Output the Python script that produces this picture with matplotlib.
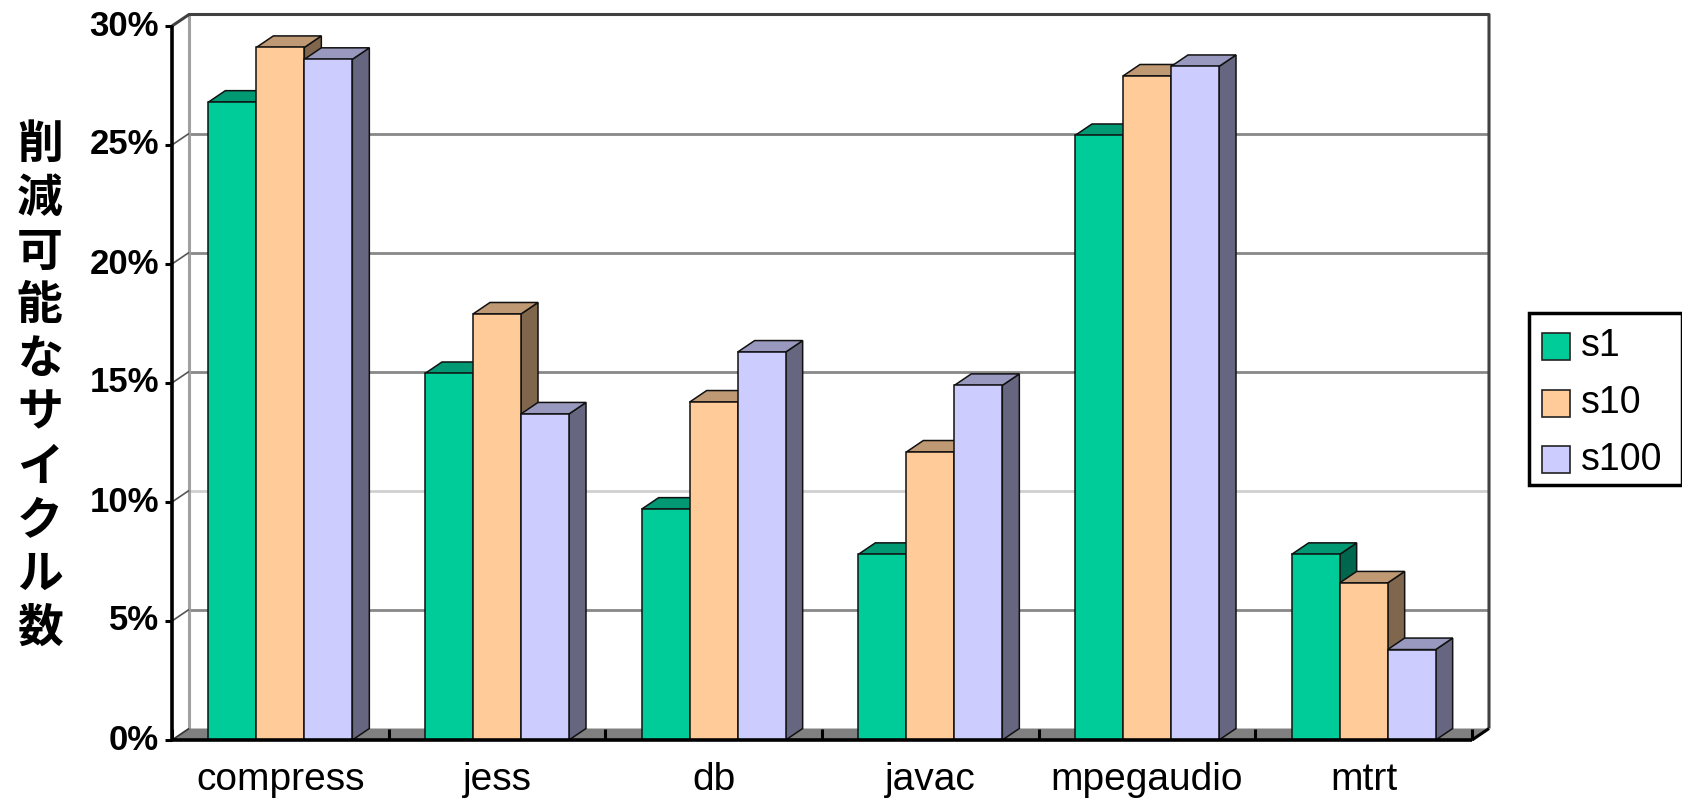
import matplotlib
matplotlib.use("Agg")
import matplotlib.pyplot as plt
from matplotlib.patches import Polygon, Rectangle
from matplotlib.colors import to_rgb

# ---- data -------------------------------------------------------------
categories = ["compress", "jess", "db", "javac", "mpegaudio", "mtrt"]
series_names = ["s1", "s10", "s100"]
s1_values = [26.8, 15.4, 9.7, 7.8, 25.4, 7.8]
s10_values = [29.1, 17.9, 14.2, 12.1, 27.9, 6.6]
s100_values = [28.6, 13.7, 16.3, 14.9, 28.3, 3.8]
y_ticks = [0, 5, 10, 15, 20, 25, 30]
y_tick_labels = ["0%", "5%", "10%", "15%", "20%", "25%", "30%"]
y_label = "削減可能なサイクル数"

series_values = [s1_values, s10_values, s100_values]
front_colors = ["#00CC99", "#FFCC99", "#CCCCFF"]

# ---- figure geometry (pixels) ------------------------------------------
W, H = 1683, 799
fig = plt.figure(figsize=(W / 100, H / 100), dpi=100)

X0, X1 = 172, 1472          # front plane left / right
Y0, YTOP = 740, 26          # front plane 0% / 30% (from top of image)
ax = fig.add_axes([X0 / W, 1 - Y0 / H, (X1 - X0) / W, (Y0 - YTOP) / H])
ax.set_xlim(0, len(categories))
ax.set_ylim(0, 30)
ax.axis("off")

px_x = (X1 - X0) / len(categories)   # pixels per category
px_y = (Y0 - YTOP) / 30.0             # pixels per percent
DX = 17 / px_x                        # depth offset in data units
DY = 11.5 / px_y
NC = len(categories)


def fx(x):
    return x / W


def fy(y):
    return 1 - y / H


def shade(color, f):
    r, g, b = to_rgb(color)
    return (r * f, g * f, b * f)


def line(xs, ys, **kw):
    ax.plot(xs, ys, clip_on=False, solid_capstyle="butt", **kw)


# ---- walls ---------------------------------------------------------------
# back-wall gridlines
for t in y_ticks[1:-1]:
    col = "#d0d0d0" if t == 10 else "#888888"
    line([DX, NC + DX], [t + DY, t + DY], color=col, lw=2, zorder=1)

# left wall: back edge and diagonal gridlines
line([DX, DX], [DY, 30 + DY], color="#a0a0a0", lw=2.2, zorder=1)
for t in y_ticks[1:-1]:
    line([0, DX], [t, t + DY], color="#555555", lw=1.2, zorder=1)

# top and right border of the back wall
line([0, DX, NC + DX, NC + DX], [30, 30 + DY, 30 + DY, DY],
     color="#404040", lw=2.2, zorder=1)

# floor
ax.add_patch(Polygon([(0, 0), (NC, 0), (NC + DX, DY), (DX, DY)],
                     closed=True, facecolor="#808080", edgecolor="none",
                     zorder=2, clip_on=False))
line([0, DX], [0, DY], color="#333333", lw=1.2, zorder=2)
for k in range(NC + 1):
    line([k, k], [0, DY], color="black", lw=2.2, zorder=2.5)

# ---- bars ----------------------------------------------------------------
bar_w = 48 / px_x
start = 0.5 - 1.5 * bar_w
z = 3
for i in range(NC):
    for j, vals in enumerate(series_values):
        h = vals[i]
        xl = i + start + j * bar_w
        xr = xl + bar_w
        c = front_colors[j]
        side = Polygon([(xr, 0), (xr + DX, DY), (xr + DX, h + DY), (xr, h)],
                       closed=True, facecolor=shade(c, 0.5),
                       edgecolor="#111111", lw=1.1, zorder=z, clip_on=False)
        top = Polygon([(xl, h), (xr, h), (xr + DX, h + DY), (xl + DX, h + DY)],
                      closed=True, facecolor=shade(c, 0.75),
                      edgecolor="#111111", lw=1.1, zorder=z + 0.1,
                      clip_on=False)
        front = Rectangle((xl, 0), bar_w, h, facecolor=c,
                          edgecolor="#111111", lw=1.1, zorder=z + 0.2,
                          clip_on=False)
        ax.add_patch(side)
        ax.add_patch(top)
        ax.add_patch(front)
        z += 1

# front floor edge, right floor edge and value axis
line([0, NC], [0, 0], color="black", lw=2.6, zorder=100)
line([NC, NC + DX], [0, DY], color="black", lw=2.2, zorder=100)
line([0, 0], [0, 30], color="black", lw=2.6, zorder=100)
for t in y_ticks:
    line([-7 / px_x, 0], [t, t], color="black", lw=2.2, zorder=100)

# ---- text ----------------------------------------------------------------
for t, lab in zip(y_ticks, y_tick_labels):
    ax.text(-13 / px_x, t, lab, ha="right", va="center", fontsize=25,
            fontweight="bold", family="Liberation Sans")

for i, cat in enumerate(categories):
    ax.text(i + 0.5, -50 / px_y, cat, ha="center", va="baseline",
            fontsize=28, family="Liberation Sans")

# vertical axis title, one character per row
char_pitch = (629 - 145) / (len(y_label) - 1)
for k, ch in enumerate(y_label):
    fig.text(fx(40), fy(145 + k * char_pitch), ch, ha="center", va="center",
             fontsize=33, fontweight="bold",
             family=["Noto Sans CJK JP", "DejaVu Sans"])

# ---- legend --------------------------------------------------------------
fig.patches.append(Rectangle((fx(1529), fy(485)), (1682 - 1529) / W,
                             (485 - 313) / H, transform=fig.transFigure,
                             facecolor="white", edgecolor="black", lw=2.5))
legend_rows = [346, 403, 460]
for name, c, yc in zip(series_names, front_colors, legend_rows):
    fig.patches.append(Rectangle((fx(1542), fy(yc + 13.5)), 28 / W, 27 / H,
                                 transform=fig.transFigure, facecolor=c,
                                 edgecolor="#222222", lw=1.2))
    fig.text(fx(1581), fy(yc), name, ha="left", va="center", fontsize=27,
             family="Liberation Sans")

fig.savefig("out.png", dpi=100, facecolor="white")
